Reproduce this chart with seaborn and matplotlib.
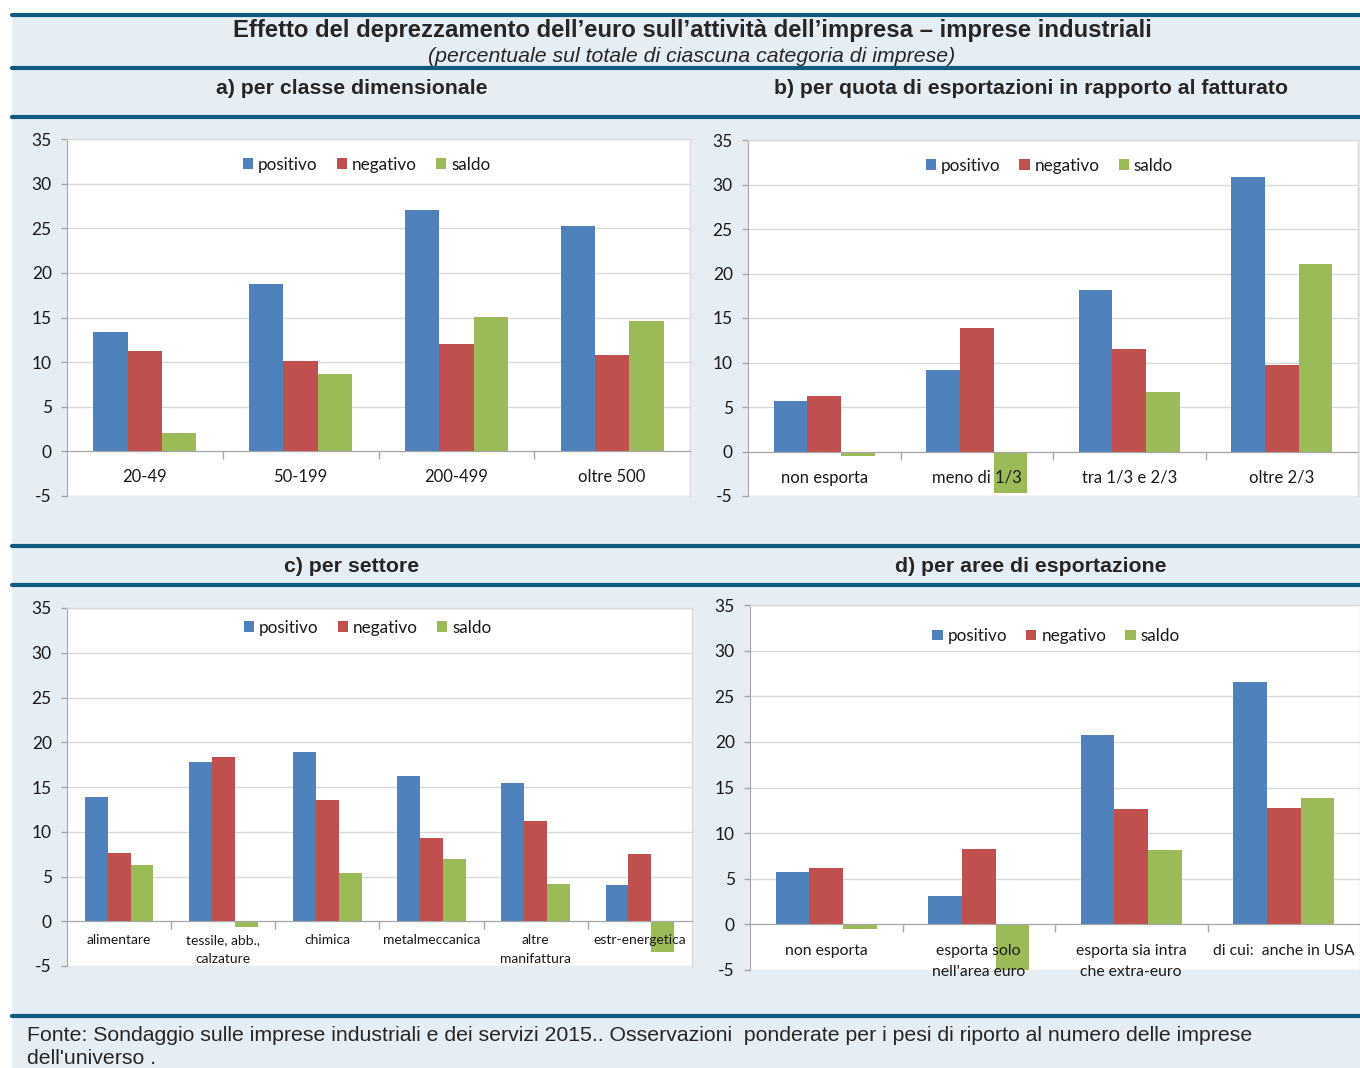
import matplotlib
matplotlib.use("Agg")
import matplotlib.pyplot as plt
from matplotlib.patches import Rectangle
from matplotlib.lines import Line2D
from matplotlib.ticker import FixedLocator
import seaborn as sns
import pandas as pd

# ---------------- data ----------------
series = ["positivo", "negativo", "saldo"]
colors = ["#4F81BD", "#C0504D", "#9BBB59"]

cat_a = ["20-49", "50-199", "200-499", "oltre 500"]
pos_a = [13.4, 18.8, 27.1, 25.3]
neg_a = [11.3, 10.1, 12.0, 10.8]
sal_a = [2.1, 8.7, 15.1, 14.6]

cat_b = ["non esporta", "meno di 1/3", "tra 1/3 e 2/3", "oltre 2/3"]
pos_b = [5.7, 9.2, 18.2, 30.8]
neg_b = [6.2, 13.9, 11.5, 9.7]
sal_b = [-0.5, -4.7, 6.7, 21.1]

cat_c = ["alimentare", "tessile, abb.,\ncalzature", "chimica", "metalmeccanica",
         "altre\nmanifattura", "estr-energetica"]
pos_c = [13.9, 17.8, 18.9, 16.2, 15.4, 4.1]
neg_c = [7.6, 18.4, 13.5, 9.3, 11.2, 7.5]
sal_c = [6.3, -0.6, 5.4, 6.9, 4.2, -3.4]

cat_d = ["non esporta", "esporta solo\nnell'area euro", "esporta sia intra\nche extra-euro",
         "di cui:  anche in USA"]
pos_d = [5.7, 3.1, 20.7, 26.6]
neg_d = [6.2, 8.3, 12.6, 12.8]
sal_d = [-0.5, -5.1, 8.1, 13.8]

title = "Effetto del deprezzamento dell\u2019euro sull\u2019attivit\u00e0 dell\u2019impresa \u2013 imprese industriali"
subtitle = "(percentuale sul totale di ciascuna categoria di imprese)"
ptitle_a = "a) per classe dimensionale"
ptitle_b = "b) per quota di esportazioni in rapporto al fatturato"
ptitle_c = "c) per settore"
ptitle_d = "d) per aree di esportazione"
footer = ("Fonte: Sondaggio sulle imprese industriali e dei servizi 2015.. Osservazioni  ponderate per i pesi di riporto al numero delle imprese\n"
          "dell'universo .")

# ---------------- figure ----------------
sns.set_style("white")
plt.rcParams["font.family"] = ["Lato", "DejaVu Sans"]
plt.rcParams["axes.unicode_minus"] = False

W, H = 1360, 1068
fig = plt.figure(figsize=(W / 100, H / 100), dpi=100)
fig.patch.set_facecolor("white")

BG = "#E6EEF5"
LINE = "#0F5A7F"
fig.add_artist(Rectangle((12 / W, 0), 1 - 12 / W, 1 - 13 / H, transform=fig.transFigure,
                         facecolor=BG, edgecolor="none", zorder=-5))
for yy in [14.5, 68, 117, 546, 585, 1016]:
    fig.add_artist(Line2D([12 / W, 1], [1 - yy / H, 1 - yy / H], transform=fig.transFigure,
                          color=LINE, lw=3, zorder=1))

TF = ["Liberation Sans", "DejaVu Sans"]
fig.text(692 / W, 1 - 30 / H, title, ha="center", va="center", fontsize=17.2,
         fontweight="bold", family=TF)
fig.text(692 / W, 1 - 56 / H, subtitle, ha="center", va="center", fontsize=15.3,
         style="italic", family=TF)
fig.text(352 / W, 1 - 88 / H, ptitle_a, ha="center", va="center", fontsize=15.3,
         fontweight="bold", family=TF)
fig.text(1031 / W, 1 - 88 / H, ptitle_b, ha="center", va="center", fontsize=15.3,
         fontweight="bold", family=TF)
fig.text(352 / W, 1 - 566 / H, ptitle_c, ha="center", va="center", fontsize=15.3,
         fontweight="bold", family=TF)
fig.text(1031 / W, 1 - 566 / H, ptitle_d, ha="center", va="center", fontsize=15.3,
         fontweight="bold", family=TF)
fig.text(27 / W, 1 - 1026 / H, footer, ha="left", va="top", fontsize=15.3,
         family=TF, linespacing=1.25)


def px_axes(l, t, r, b):
    ax = fig.add_axes([l / W, 1 - b / H, (r - l) / W, (b - t) / H])
    ax.set_zorder(2)
    return ax


def panel(box, cats, pos, neg, sal, lab_size, lab_off, leg_x, leg_y):
    ax = px_axes(*box)
    df = pd.DataFrame({
        "cat": cats * 3,
        "serie": [s for s in series for _ in cats],
        "val": list(pos) + list(neg) + list(sal),
    })
    sns.barplot(data=df, x="cat", y="val", hue="serie", hue_order=series,
                palette=colors, width=0.66, gap=0, saturation=1, ax=ax,
                edgecolor="none", linewidth=0, zorder=2)
    ax.set_facecolor("white")
    ax.set_ylim(-5, 35)
    ax.set_xlim(-0.5, len(cats) - 0.5)
    ax.set_yticks(range(-5, 36, 5))
    ax.yaxis.grid(True, color="#D9D9D9", lw=1)
    ax.set_axisbelow(True)
    ax.set_xlabel("")
    ax.set_ylabel("")
    for s in ["top", "right"]:
        ax.spines[s].set_color("#D9D9D9")
        ax.spines[s].set_linewidth(1)
    ax.spines["left"].set_color("#A6A6A6")
    ax.spines["bottom"].set_color("#A6A6A6")
    ax.spines["bottom"].set_position(("data", 0))
    ax.tick_params(axis="y", direction="out", length=4, color="#A6A6A6", width=1,
                   labelsize=12.5, pad=7, left=True, labelcolor="#1a1a1a")
    ax.set_xticks(range(len(cats)))
    ax.set_xticklabels([])
    ax.tick_params(axis="x", which="major", length=0)
    ax.xaxis.set_minor_locator(FixedLocator([i + 0.5 for i in range(len(cats) - 1)]))
    ax.tick_params(axis="x", which="minor", direction="out", length=6,
                   color="#A6A6A6", width=1, bottom=True)
    for i, c in enumerate(cats):
        ax.annotate(c, xy=(i, 0), xytext=(0, -lab_off), textcoords="offset points",
                    ha="center", va="top", fontsize=lab_size, zorder=10,
                    annotation_clip=False, linespacing=1.65, color="#1a1a1a")
    handles, labels = ax.get_legend_handles_labels()
    ax.legend(handles, labels, ncol=3, loc="center", bbox_to_anchor=(leg_x, leg_y),
              frameon=False, handlelength=0.6, handleheight=0.6,
              handletextpad=0.3, columnspacing=1.1, fontsize=12.3,
              labelcolor="#1a1a1a")
    return ax


panel((67, 139, 690, 496), cat_a, pos_a, neg_a, sal_a, 12, 13, 0.481, 0.928)
panel((748, 140, 1358, 496), cat_b, pos_b, neg_b, sal_b, 12, 13, 0.494, 0.928)
panel((67, 608, 692, 966), cat_c, pos_c, neg_c, sal_c, 10, 9.5, 0.481, 0.945)
panel((750, 605, 1360, 970), cat_d, pos_d, neg_d, sal_d, 11.3, 14, 0.502, 0.915)

fig.savefig("out.png", dpi=100, facecolor="white")
